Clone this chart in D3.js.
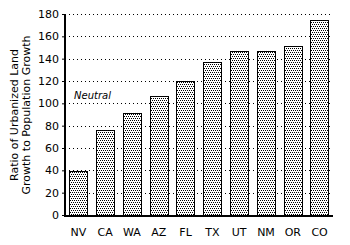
<!DOCTYPE html>
<html>
<head>
<meta charset="utf-8">
<script src="https://cdn.jsdelivr.net/npm/d3@7"></script>
<style>
  body { margin: 0; background: #fff; }
  text { font-family: "DejaVu Sans", sans-serif; fill: #000; }
</style>
</head>
<body>
<div class="chart"></div>
<script>
const states = ["NV", "CA", "WA", "AZ", "FL", "TX", "UT", "NM", "OR", "CO"]
const ratios = [39, 76, 91, 107, 120, 137, 147, 147, 151, 175]
const yTicks = [0, 20, 40, 60, 80, 100, 120, 140, 160, 180]
const neutralValue = 100

const data = states.map((s, i) => ({state: s, ratio: ratios[i]}))

const dims = {
  width: 350,
  height: 245,
  margin: {top: 14, right: 17, bottom: 30, left: 65}
}
dims.boundedWidth = dims.width - dims.margin.left - dims.margin.right
dims.boundedHeight = dims.height - dims.margin.top - dims.margin.bottom

const xScale = d3.scaleBand()
  .domain(states)
  .range([0, dims.boundedWidth])
  .paddingInner(0.32)
  .paddingOuter(0.16)

const yScale = d3.scaleLinear()
  .domain([0, 180])
  .range([dims.boundedHeight, 0])

const svg = d3.select(".chart")
  .append("svg")
    .attr("width", dims.width)
    .attr("height", dims.height)

// stipple fill for the bars (staggered dots)
const pattern = svg.append("defs").append("pattern")
    .attr("id", "stipple")
    .attr("width", 2)
    .attr("height", 4)
    .attr("patternUnits", "userSpaceOnUse")
pattern.append("rect").attr("width", 2).attr("height", 4).attr("fill", "#fff")
pattern.append("rect").attr("x", 0).attr("y", 0).attr("width", 1).attr("height", 1).attr("fill", "#000")
pattern.append("rect").attr("x", 1).attr("y", 2).attr("width", 1).attr("height", 1).attr("fill", "#000")

const bounds = svg.append("g")
    .attr("transform", `translate(${dims.margin.left}, ${dims.margin.top})`)

// dotted gridlines
bounds.append("g")
  .selectAll("line")
  .data(yTicks.filter(d => d > 0))
  .join("line")
    .attr("x1", 0)
    .attr("x2", dims.boundedWidth)
    .attr("y1", d => Math.round(yScale(d)) + 0.5)
    .attr("y2", d => Math.round(yScale(d)) + 0.5)
    .attr("stroke", "#000")
    .attr("stroke-width", 1)
    .attr("stroke-dasharray", "1,3")

bounds.append("text")
    .attr("x", 9)
    .attr("y", yScale(neutralValue) - 4)
    .style("font-size", "10px")
    .style("font-style", "italic")
    .text("Neutral")

bounds.selectAll(".bar")
  .data(data)
  .join("rect")
    .attr("class", "bar")
    .attr("x", d => Math.round(xScale(d.state)) + 0.5)
    .attr("y", d => Math.round(yScale(d.ratio)) + 0.5)
    .attr("width", Math.round(xScale.bandwidth()))
    .attr("height", d => dims.boundedHeight - Math.round(yScale(d.ratio)))
    .attr("fill", "url(#stipple)")
    .attr("stroke", "#000")
    .attr("stroke-width", 1)

const yAxis = bounds.append("g")
    .call(d3.axisLeft(yScale).tickValues(yTicks).tickSize(3).tickPadding(3))
    .call(g => g.select(".domain").remove())
    .call(g => g.selectAll(".tick text").style("font-size", "11px").style("font-family", "DejaVu Sans"))

bounds.append("line")
    .attr("x1", 0).attr("x2", 0)
    .attr("y1", 0).attr("y2", dims.boundedHeight + 1)
    .attr("stroke", "#000")
    .attr("stroke-width", 2)

bounds.append("line")
    .attr("x1", -1).attr("x2", dims.boundedWidth)
    .attr("y1", dims.boundedHeight + 1).attr("y2", dims.boundedHeight + 1)
    .attr("stroke", "#000")
    .attr("stroke-width", 2)

bounds.append("g")
  .selectAll("text")
  .data(states)
  .join("text")
    .attr("x", d => xScale(d) + xScale.bandwidth() / 2)
    .attr("y", dims.boundedHeight + 21)
    .attr("text-anchor", "middle")
    .style("font-size", "11px")
    .text(d => d)

const yLabel = svg.append("text")
    .attr("transform", `translate(18, 115) rotate(-90)`)
    .attr("text-anchor", "middle")
    .style("font-size", "11px")
yLabel.append("tspan").attr("x", 0).attr("dy", 0).text("Ratio of Urbanized Land")
yLabel.append("tspan").attr("x", 0).attr("dy", 12).text("Growth to Population Growth")
</script>
</body>
</html>
